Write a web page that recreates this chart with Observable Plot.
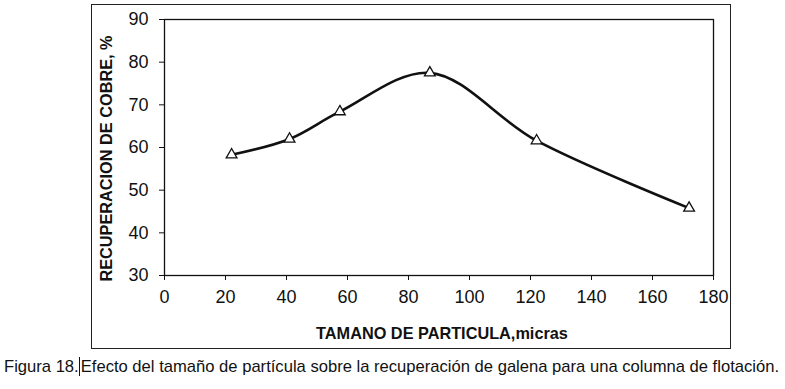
<!DOCTYPE html>
<html>
<head>
<meta charset="utf-8">
<script src="https://cdn.jsdelivr.net/npm/d3@7"></script>
<script src="https://cdn.jsdelivr.net/npm/@observablehq/plot@0.6"></script>
<style>
  html, body { margin: 0; padding: 0; background: #fff; }
  #wrap { position: relative; width: 785px; height: 389px; overflow: hidden; font-family: "Liberation Sans", Arial, sans-serif; }
  #box { position: absolute; left: 91px; top: 4px; width: 638px; height: 343px; border: 1.5px solid #222; }
  #chart { position: absolute; left: 0; top: 0; }
  #caption { position: absolute; left: 4px; top: 357px; font-size: 16.6px; color: #111; white-space: nowrap; }
  #caption .bar { border-left: 1px solid #111; padding-left: 1px; }
</style>
</head>
<body>
<div id="wrap">
  <div id="box"></div>
  <div id="chart"></div>
  <div id="caption">Figura 18.<span class="bar">Efecto del tamaño de partícula sobre la recuperación de galena para una columna de flotación.</span></div>
</div>
<script>
const particleSize = [22, 41, 57.5, 87, 122, 172];
const recovery = [58.3, 62, 68.4, 77.5, 61.6, 45.8];
const xTicks = [0, 20, 40, 60, 80, 100, 120, 140, 160, 180];
const yTicks = [30, 40, 50, 60, 70, 80, 90];
const xLabel = "TAMANO DE PARTICULA,micras";
const yLabel = "RECUPERACION DE COBRE, %";

const data = particleSize.map((x, i) => ({x, y: recovery[i]}));

const chart = Plot.plot({
  width: 785,
  height: 350,
  marginLeft: 164,
  marginRight: 72,
  marginTop: 19,
  marginBottom: 75,
  style: {fontFamily: '"Liberation Sans", Arial, sans-serif', background: "transparent", color: "#111"},
  x: {domain: [0, 180]},
  y: {domain: [30, 90]},
  marks: [
    Plot.frame({stroke: "#111", strokeWidth: 1.3}),
    Plot.axisX({ticks: xTicks, tickSize: 5, tickPadding: 10, fontSize: 18, label: null, tickFormat: d => String(d)}),
    Plot.axisY({ticks: yTicks, tickSize: 5, tickPadding: 11, fontSize: 18, label: null, tickFormat: d => String(d)}),
    Plot.text([xLabel], {frameAnchor: "bottom", dx: 3, dy: 63, fontSize: 16.3, fontWeight: "bold", text: d => d}),
    Plot.text([yLabel], {frameAnchor: "left", textAnchor: "middle", rotate: -90, dx: -58, dy: 11, fontSize: 16.3, fontWeight: "bold", text: d => d}),
    Plot.line(data, {x: "x", y: "y", curve: "catmull-rom", stroke: "#111", strokeWidth: 2.6}),
    Plot.dot(data, {x: "x", y: "y", symbol: "triangle", r: 4, fill: "white", stroke: "#111", strokeWidth: 1.3})
  ]
});
document.getElementById("chart").appendChild(chart);
</script>
</body>
</html>
